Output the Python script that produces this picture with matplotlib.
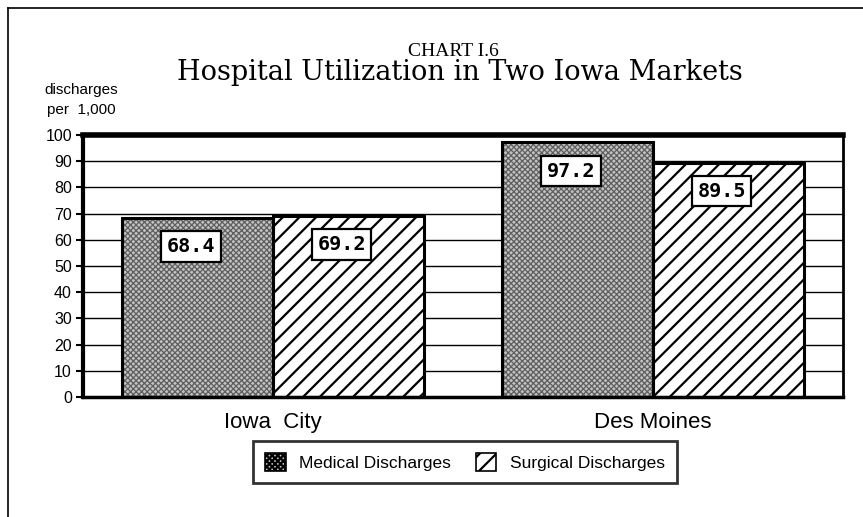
import matplotlib
matplotlib.use("Agg")
import matplotlib.pyplot as plt
import numpy as np
from matplotlib.patches import Patch
from matplotlib.lines import Line2D

plt.rcParams['hatch.linewidth'] = 1.6

categories = ["Iowa  City", "Des Moines"]
series_names = ["Medical Discharges", "Surgical Discharges"]
medical = [68.4, 97.2]
surgical = [69.2, 89.5]
yticks = [0, 10, 20, 30, 40, 50, 60, 70, 80, 90, 100]

MED_FACE = '#c2c2c2'
MED_HATCH = '#5e5e5e'

fig = plt.figure(figsize=(8.63, 5.17), dpi=100)
ax = fig.add_axes([83/863, 1-397/517, (843-83)/863, (397-135)/517])

x = np.arange(len(categories))
w = 0.397

for yv in yticks[1:]:
    ax.axhline(yv, color='black', lw=1.0, zorder=1)

med_bars = ax.bar(x - w/2, medical, width=w, facecolor=MED_FACE, edgecolor=MED_HATCH,
                  hatch='xxxxxx', lw=0, zorder=2)
for r in med_bars:
    if hasattr(r, 'set_hatch_linewidth'):
        r.set_hatch_linewidth(0.9)
ax.bar(x - w/2, medical, width=w, facecolor='none', edgecolor='black', lw=2.2, zorder=3)
ax.bar(x + w/2, surgical, width=w, facecolor='white', edgecolor='black',
       hatch='//', lw=2.2, zorder=2)

for i in range(len(categories)):
    for off, v in ((-w/2, medical[i]), (w/2, surgical[i])):
        ax.text(x[i] + off - 0.018, v - 11, f"{v:.1f}", ha='center', va='center',
                family='DejaVu Sans Mono', fontweight='bold', fontsize=14.5, zorder=5,
                bbox=dict(boxstyle='square,pad=0.28', facecolor='white',
                          edgecolor='black', lw=1.6))

ax.set_xlim(-0.5, 1.5)
ax.set_ylim(0, 100)
ax.set_yticks(yticks)
ax.set_yticklabels([str(t) for t in yticks], family='Liberation Sans', fontsize=11.5)
ax.tick_params(axis='y', direction='out', length=5, width=1.5, pad=3)
ax.set_xticks(x)
ax.set_xticklabels(categories, family='Liberation Sans', fontsize=16)
ax.tick_params(axis='x', length=0, pad=11)

ax.spines['top'].set_linewidth(4.0)
ax.spines['left'].set_linewidth(3.0)
ax.spines['bottom'].set_linewidth(2.5)
ax.spines['right'].set_linewidth(2.0)
for s in ax.spines.values():
    s.set_zorder(6)

fig.text(453/863, 1-51/517, "CHART I.6", ha='center', va='center',
         family='Liberation Serif', fontsize=14)
fig.text(460/863, 1-73/517, "Hospital Utilization in Two Iowa Markets", ha='center',
         va='center', family='DejaVu Serif', fontsize=19.5)
fig.text(81/863, 1-90/517, "discharges", ha='center', va='center',
         family='Liberation Sans', fontsize=11)
fig.text(81/863, 1-110/517, "per  1,000", ha='center', va='center',
         family='Liberation Sans', fontsize=11)

handles = [Patch(facecolor=MED_FACE, edgecolor='black', hatch='xxxxxx', lw=1.2),
           Patch(facecolor='white', edgecolor='black', hatch='//', lw=1.2)]
leg = fig.legend(handles, series_names, loc='center', bbox_to_anchor=(465/863, 1-462/517),
                 ncol=2, frameon=True, fancybox=False, edgecolor='black',
                 prop={'family': 'Liberation Sans', 'size': 12.5},
                 handlelength=1.2, handleheight=1.2, columnspacing=1.4,
                 borderpad=0.7, handletextpad=0.8)
leg.get_frame().set_linewidth(2.0)

fig.add_artist(Line2D([8/863, 1], [1-8/517, 1-8/517], color='black', lw=1.2))
fig.add_artist(Line2D([8/863, 8/863], [0, 1-8/517], color='black', lw=1.2))

fig.savefig("out.png", dpi=100)
